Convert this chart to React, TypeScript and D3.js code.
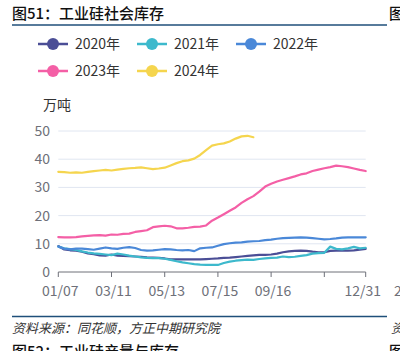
import React from "react";
import * as d3 from "d3";

const seriesNames = ["2020年", "2021年", "2022年", "2023年", "2024年"];
const seriesColors = ["#4B4E96", "#3DB9CC", "#4A88D8", "#F45FA6", "#F5D54E"];

const s2020 = [9.2, 8.0, 7.7, 7.6, 7.2, 6.6, 6.3, 5.9, 5.8, 6.2, 5.8, 5.7, 5.6, 5.5, 5.4, 5.2, 5.1, 5.0, 4.8, 4.5, 4.5, 4.5, 4.5, 4.5, 4.5, 4.6, 4.7, 4.8, 5.0, 5.1, 5.3, 5.5, 5.7, 5.9, 6.1, 6.1, 6.2, 6.5, 7.0, 7.3, 7.5, 7.6, 7.5, 7.2, 7.0, 7.0, 7.5, 7.6, 7.6, 7.6, 7.7, 7.9, 8.2];
const s2021 = [9.0, 8.4, 8.1, 7.8, 7.3, 6.9, 6.6, 6.4, 6.2, 6.0, 6.5, 6.2, 5.8, 5.5, 5.2, 5.0, 4.9, 4.9, 4.7, 4.3, 3.8, 3.4, 3.1, 2.8, 2.6, 2.5, 2.5, 2.5, 3.2, 3.7, 4.0, 4.2, 4.4, 4.3, 4.6, 4.8, 5.0, 5.1, 5.5, 5.3, 5.4, 5.7, 6.0, 6.5, 6.7, 6.8, 9.0, 8.2, 8.0, 8.4, 8.9, 8.4, 8.6];
const s2022 = [9.0, 8.3, 8.0, 8.3, 8.3, 8.1, 7.9, 8.3, 8.7, 8.4, 8.2, 8.6, 8.8, 8.5, 7.8, 7.6, 7.7, 7.9, 8.1, 8.0, 7.8, 7.7, 7.8, 7.4, 8.4, 8.6, 8.7, 9.3, 9.9, 10.2, 10.4, 10.5, 10.8, 10.9, 11.0, 11.3, 11.5, 11.8, 12.0, 12.1, 12.2, 12.3, 12.2, 12.0, 11.8, 11.6, 11.7, 11.9, 12.2, 12.3, 12.3, 12.3, 12.3];
const s2023 = [12.4, 12.3, 12.3, 12.4, 12.6, 12.8, 13.0, 13.1, 12.9, 13.3, 13.2, 13.5, 13.6, 14.2, 14.5, 14.8, 15.9, 16.2, 16.4, 16.2, 15.5, 15.5, 15.7, 16.0, 16.1, 16.5, 18.2, 19.3, 20.5, 21.7, 22.9, 24.5, 25.8, 26.9, 28.5, 30.3, 31.3, 32.1, 32.7, 33.3, 33.9, 34.6, 35.0, 35.8, 36.3, 36.8, 37.2, 37.7, 37.5, 37.2, 36.7, 36.2, 35.8];
const s2024 = [35.5, 35.4, 35.2, 35.3, 35.2, 35.5, 35.8, 36.0, 36.2, 36.0, 36.3, 36.6, 36.8, 36.9, 37.1, 36.8, 36.5, 36.7, 37.0, 37.8, 38.6, 39.3, 39.6, 40.2, 41.5, 43.2, 44.8, 45.3, 45.6, 46.3, 47.3, 48.1, 48.3, 47.8];

const seriesData = [s2020, s2021, s2022, s2023, s2024];
const categoryCount = 53;
const tickIndices = [0, 9, 18, 27, 36, 45, 52];
const tickLabels = ["01/07", "03/11", "05/13", "07/15", "09/16", "", "12/31"];
const yTicks = [0, 10, 20, 30, 40, 50];

export default function App() {
  const W = 400, H = 351;
  const x = d3.scaleLinear().domain([0, categoryCount - 1]).range([58.3, 365.7]);
  const y = d3.scaleLinear().domain([0, 50]).range([272, 131]);
  const line = d3.line<number>().x((_, i) => x(i)).y((d) => y(d)).curve(d3.curveLinear);
  const font = "'Noto Sans CJK SC', 'Noto Sans', sans-serif";
  const axisColor = "#6E7079";

  const legendPos = [
    [38, 44], [137, 44], [236, 44], [38, 71], [137, 71],
  ];

  return (
    <svg width={W} height={H} style={{ position: "absolute", left: 0, top: 0, background: "#fff" }} fontFamily={font}>
      <rect width={W} height={H} fill="#fff" />
      {/* title */}
      <text x={12} y={19} fontSize={15} fill="#111" fontWeight={500}>图51：工业硅社会库存</text>
      <text x={389} y={19} fontSize={15} fill="#111" fontWeight={500}>图</text>
      <line x1={12} x2={387} y1={25} y2={25} stroke="#1F4F7A" strokeWidth={1.3} />

      {/* legend */}
      {seriesNames.map((n, i) => {
        const [lx, ly] = legendPos[i];
        return (
          <g key={n}>
            <line x1={lx} x2={lx + 30} y1={ly} y2={ly} stroke={seriesColors[i]} strokeWidth={2.5} />
            <circle cx={lx + 15} cy={ly} r={6} fill={seriesColors[i]} />
            <text x={lx + 37} y={ly + 5} fontSize={14} fill="#333">{n}</text>
          </g>
        );
      })}

      <text x={43} y={110} fontSize={14} fill="#333">万吨</text>

      {/* grid */}
      {yTicks.map((t) => (
        <g key={t}>
          {t > 0 && <line x1={58.3} x2={365.7} y1={y(t)} y2={y(t)} stroke="#E0E6F1" strokeWidth={1} />}
          <text x={50} y={y(t) + 5} fontSize={14} fill={axisColor} textAnchor="end">{t}</text>
        </g>
      ))}

      {/* series */}
      {seriesData.map((d, i) => (
        <path key={i} d={line(d) || ""} fill="none" stroke={seriesColors[i]} strokeWidth={2.2} strokeLinejoin="round" strokeLinecap="round" />
      ))}

      {/* x axis */}
      <line x1={58.3} x2={365.7} y1={272} y2={272} stroke={axisColor} strokeWidth={1} />
      {tickIndices.map((ti, k) => (
        <g key={ti}>
          <line x1={x(ti)} x2={x(ti)} y1={272} y2={277} stroke={axisColor} strokeWidth={1} />
          {tickLabels[k] && (
            <text x={k === tickIndices.length - 1 ? x(ti) - 3 : x(ti) + 2} y={296} fontSize={14} fill={axisColor} textAnchor="middle">{tickLabels[k]}</text>
          )}
        </g>
      ))}
      <text x={394} y={296} fontSize={14} fill={axisColor}>2</text>

      {/* footer */}
      <line x1={12} x2={387} y1={316.5} y2={316.5} stroke="#1F4F7A" strokeWidth={1.3} />
      <text x={12} y={333} fontSize={13} fill="#333" fontStyle="italic">资料来源：同花顺，方正中期研究院</text>
      <text x={391} y={333} fontSize={13} fill="#333" fontStyle="italic">资</text>
      <text x={12} y={357} fontSize={15} fill="#111" fontWeight={500}>图52：工业硅产量与库存</text>
      <text x={389} y={357} fontSize={15} fill="#111" fontWeight={500}>图</text>
    </svg>
  );
}
